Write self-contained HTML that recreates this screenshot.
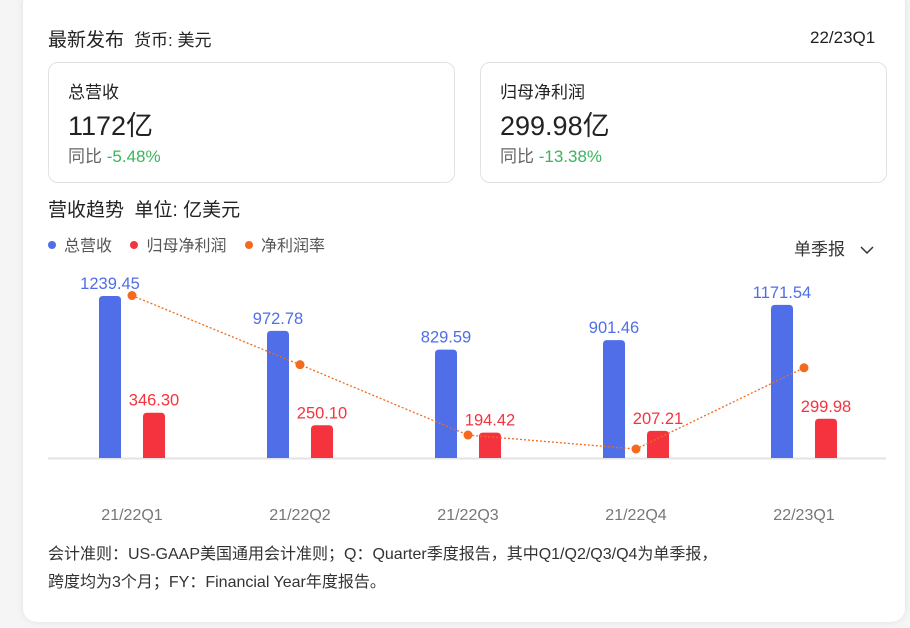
<!DOCTYPE html>
<html><head><meta charset="utf-8"><style>
body{margin:0;width:910px;height:628px;background:#f5f5f5;font-family:"Liberation Sans","Noto Sans CJK SC",sans-serif;position:relative;overflow:hidden}
.card{position:absolute;left:23px;top:-10px;width:882px;height:632px;background:#fff;border-radius:14px;box-shadow:0 0 8px rgba(0,0,0,0.08)}
.t{position:absolute;white-space:nowrap;color:#222}
.box{position:absolute;top:62px;width:405px;height:119px;border:1px solid #e2e2e2;border-radius:10px;background:#fff}
</style></head><body>
<div class="card"></div>
<div class="t" style="left:48px;top:25px;font-size:19px">最新发布 <span style="font-size:17px">&nbsp;货币: 美元</span></div>
<div class="t" style="left:810px;top:28px;font-size:17px">22/23Q1</div>
<div class="box" style="left:48px">
 <div class="t" style="left:19px;top:15px;font-size:17px">总营收</div>
 <div class="t" style="left:19px;top:41px;font-size:27px">1172亿</div>
 <div class="t" style="left:19px;top:79px;font-size:17px;color:#666">同比 <span style="color:#3bb55c">-5.48%</span></div>
</div>
<div class="box" style="left:480px">
 <div class="t" style="left:19px;top:15px;font-size:17px">归母净利润</div>
 <div class="t" style="left:19px;top:41px;font-size:27px">299.98亿</div>
 <div class="t" style="left:19px;top:79px;font-size:17px;color:#666">同比 <span style="color:#3bb55c">-13.38%</span></div>
</div>
<div class="t" style="left:48px;top:195px;font-size:19px">营收趋势 <span>&nbsp;单位: 亿美元</span></div>
<div class="t" style="left:48px;top:232px;font-size:16px;color:#555">
 <span><span style="display:inline-block;width:8px;height:8px;border-radius:50%;background:#4f6ee8;margin-right:8px;vertical-align:2px"></span>总营收</span>
 <span style="margin-left:14px"><span style="display:inline-block;width:8px;height:8px;border-radius:50%;background:#f5333f;margin-right:8px;vertical-align:2px"></span>归母净利润</span>
 <span style="margin-left:14px"><span style="display:inline-block;width:8px;height:8px;border-radius:50%;background:#f56a1d;margin-right:8px;vertical-align:2px"></span>净利润率</span>
</div>
<div class="t" style="left:794px;top:235px;font-size:17px;color:#333">单季报 <svg width="14" height="10" style="margin-left:10px"><path d="M1 2 L7 8 L13 2" stroke="#333" fill="none" stroke-width="1.5"/></svg></div>
<svg id="chart" width="910" height="628" style="position:absolute;left:0;top:0"></svg>
<div class="t" style="left:48px;top:541px;font-size:16px;color:#333;line-height:28px">会计准则：US-GAAP美国通用会计准则；Q：Quarter季度报告，其中Q1/Q2/Q3/Q4为单季报，<br>跨度均为3个月；FY：Financial Year年度报告。</div>
<script>
const categories=["21/22Q1","21/22Q2","21/22Q3","21/22Q4","22/23Q1"];
const revenue=[1239.45,972.78,829.59,901.46,1171.54];
const profit=[346.30,250.10,194.42,207.21,299.98];
const margin=[27.94,25.71,23.44,22.99,25.61];
const svg=document.getElementById('chart');
const NS='http://www.w3.org/2000/svg';
const base=458;
function x(i){return 132+i*168;}
function y(v){return base-v*0.1307;}
function ym(v){return 449-(v-22.99)*31;}
function mk(t,a){const e=document.createElementNS(NS,t);for(const k in a)e.setAttribute(k,a[k]);svg.appendChild(e);return e;}
const ax=mk('line',{x1:48,x2:886,y1:base+0.5,y2:base+0.5,stroke:'#e3e3e3','stroke-width':2});


categories.forEach((c,i)=>{
 const b=mk('path',{d:`M${x(i)-33} ${base} V${y(revenue[i])+4} q0 -4 4 -4 h14 q4 0 4 4 V${base} Z`,fill:'#4f6ee8'});
 
 
 const r=mk('path',{d:`M${x(i)+11} ${base} V${y(profit[i])+4} q0 -4 4 -4 h14 q4 0 4 4 V${base} Z`,fill:'#f5333f'});
 
 
 const t1=mk('text',{x:x(i)-22,y:y(revenue[i])-7,'text-anchor':'middle','font-size':16.5,fill:'#4f6ee8'});t1.textContent=revenue[i].toFixed(2);
 
 
 const t2=mk('text',{x:x(i)+22,y:y(profit[i])-7,'text-anchor':'middle','font-size':16.5,fill:'#f5333f'});t2.textContent=profit[i].toFixed(2);
 
 
 const t3=mk('text',{x:x(i),y:520,'text-anchor':'middle','font-size':16,fill:'#777'});t3.textContent=c;
 
 
});
const ln=mk('polyline',{points:margin.map((v,i)=>x(i)+','+ym(v)).join(' '),fill:'none',stroke:'#f56a1d','stroke-width':1.3,'stroke-dasharray':'2 2'});


margin.forEach((v,i)=>{const d=mk('circle',{cx:x(i),cy:ym(v),r:4.5,fill:'#f56a1d'});
 
 });
</script>
</body></html>
